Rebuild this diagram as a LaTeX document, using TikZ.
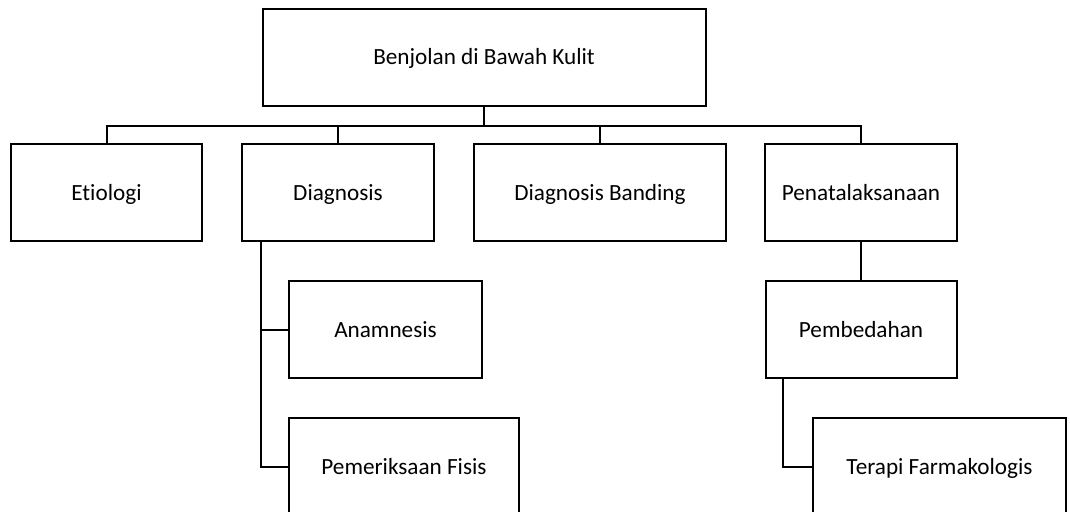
\documentclass[tikz,border=0pt]{standalone}
\usepackage{fontspec}
\setmainfont[RawFeature=-liga]{Carlito}
\begin{document}
\begin{tikzpicture}[x=1pt,y=-1pt,
  box/.style={draw,line width=2pt,minimum height=97pt,inner sep=0pt,text height=15pt,text depth=0pt,font=\fontsize{23.2}{27}\selectfont},
  link/.style={line width=2pt}]
\useasboundingbox (0,0) rectangle (1070,511);
\node[box,minimum width=443pt](top) at (484,57.5){Benjolan di Bawah Kulit};
\coordinate (bus) at (484,125.5);

\node[box,minimum width=191pt](etio) at (106.5,192.5){Etiologi};
\node[box,minimum width=192pt](diag) at (338,192.5){Diagnosis};
\node[box,minimum width=252pt](band) at (600,192.5){Diagnosis Banding};
\node[box,minimum width=192pt](pena) at (861,192.5){Penatalaksanaan};

\node[box,minimum width=193pt](anam) at (385.5,329.5){Anamnesis};
\node[box,minimum width=230pt](pem) at (404,466.5){Pemeriksaan Fisis};
\node[box,minimum width=191pt](pemb) at (861,329.5){Pembedahan};
\node[box,minimum width=253pt](tera) at (939.5,466.5){Terapi Farmakologis};

% top level
\draw [link] (top.south) -- (bus);
\draw [link] (etio.north) |- (bus);
\draw [link] (diag.north) |- (bus);
\draw [link] (band.north) |- (bus);
\draw [link] (pena.north) |- (bus);
% diagnosis
\draw [link] (diag.south west) ++(20,0) |- (anam.west);
\draw [link] (diag.south west) ++(20,0) |- (pem.west);
% penatalaksanaan
\draw [link] (pena.south) -- (pemb.north);
\draw [link] (pemb.south west) ++(18,0) |- (tera.west);
\end{tikzpicture}
\end{document}
